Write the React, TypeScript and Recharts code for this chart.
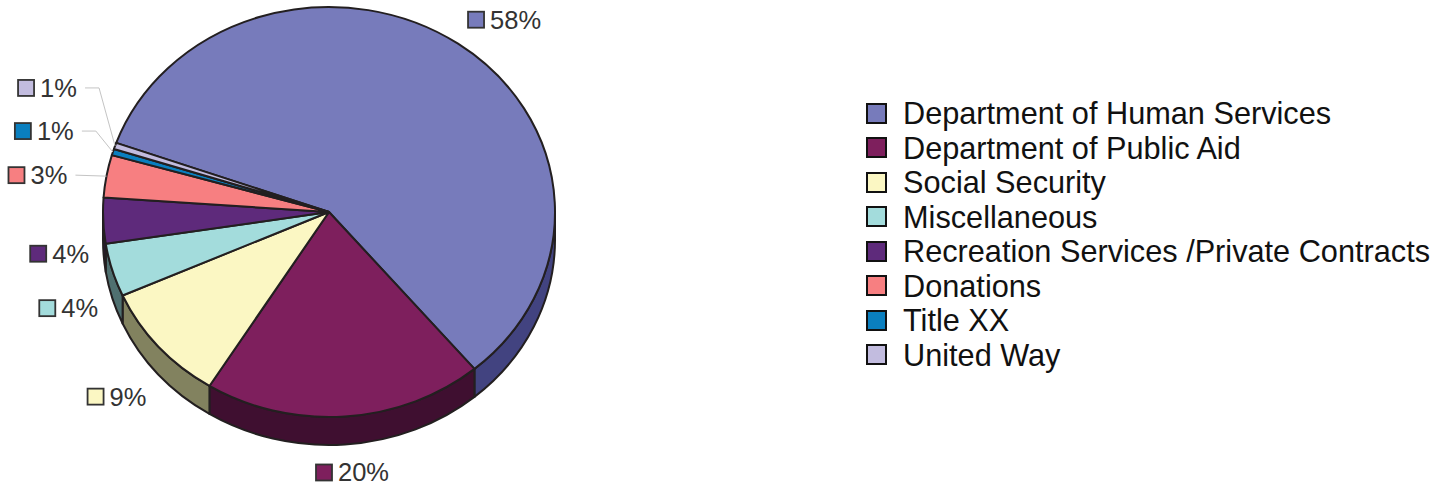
import React from 'react'
import { PieChart, Pie, Legend } from 'recharts'

const CATEGORIES = [
  'Department of Human Services',
  'Department of Public Aid',
  'Social Security',
  'Miscellaneous',
  'Recreation Services /Private Contracts',
  'Donations',
  'Title XX',
  'United Way',
]
const VALUES = [58.4, 20.0, 9.45, 4.2, 3.6, 3.35, 0.5, 0.5]
const TOP_COLORS = ['#777BBB', '#7E1F5D', '#FBF7C3', '#A3DCDC', '#5E2A7B', '#F77F81', '#0A7FBF', '#C2BCDF']
const SIDE_COLORS = ['#424380', '#3F0F30', '#82825F', '#4F7070', '#2F153E', '#7C4041', '#054060', '#615E70']

// offset from the rim of the pie to the label's colour square
const LABEL_NUDGE = [
  [18, -24],
  [-21, 56],
  [-63, 50],
  [-65, 38],
  [-65, 33],
  [-90, -1],
  [-90, -21],
  [-89, -58],
]
// how far the grey leader starts from the label square
const LEADER_START = [0, 0, 0, 0, 0, 59, 59, 59]

const CX = 329
const CY = 212
const RADIUS = 226
const SQUASH = 205 / 226
const DEPTH = 28
const START = 160.3
const OUTLINE = '#231F20'

const topData = CATEGORIES.map((name, i) => ({ name, value: VALUES[i], fill: TOP_COLORS[i] }))
const sideData = CATEGORIES.map((name, i) => ({ name, value: VALUES[i], fill: SIDE_COLORS[i] }))

const rim = (cx: number, cy: number, r: number, deg: number) => {
  const a = (deg * Math.PI) / 180
  return [cx + r * Math.cos(a), cy - r * SQUASH * Math.sin(a)]
}

const TopSlice = (props: any) => {
  const { cx, cy, outerRadius: r, startAngle, endAngle, fill } = props
  const [x1, y1] = rim(cx, cy, r, startAngle)
  const [x2, y2] = rim(cx, cy, r, endAngle)
  const large = Math.abs(startAngle - endAngle) > 180 ? 1 : 0
  const d = `M${cx} ${cy}L${x1} ${y1}A${r} ${r * SQUASH} 0 ${large} 1 ${x2} ${y2}Z`
  return <path d={d} fill={fill} stroke={OUTLINE} strokeWidth={2} strokeLinejoin="round" />
}

const SideSlice = (props: any) => {
  const { cx, cy, outerRadius: r, startAngle, endAngle, fill } = props
  const hi = Math.min(Math.max(startAngle, endAngle), 0)
  const lo = Math.max(Math.min(startAngle, endAngle), -180)
  if (lo >= hi) return null
  const [x1, y1] = rim(cx, cy, r, hi)
  const [x2, y2] = rim(cx, cy, r, lo)
  const ry = r * SQUASH
  const d =
    `M${x1} ${y1}A${r} ${ry} 0 0 1 ${x2} ${y2}L${x2} ${y2 + DEPTH}` +
    `A${r} ${ry} 0 0 0 ${x1} ${y1 + DEPTH}Z`
  return <path d={d} fill={fill} stroke={OUTLINE} strokeWidth={2} strokeLinejoin="round" />
}

const renderLabel = (props: any) => {
  const { cx, cy, outerRadius: r, midAngle, index, value } = props
  const [px, py] = rim(cx, cy, r, midAngle)
  const x = px + LABEL_NUDGE[index][0]
  const y = py + LABEL_NUDGE[index][1]
  const lead = LEADER_START[index]
  return (
    <g key={index}>
      {lead > 0 && (
        <polyline
          points={
            index === 5
              ? `${x + lead} ${y},${px} ${py}`
              : `${x + lead} ${y},${x + lead + 14} ${y},${px} ${py}`
          }
          fill="none"
          stroke="#C4C4C4"
          strokeWidth={1}
        />
      )}
      <rect x={x - 8} y={y - 8} width={16} height={16} fill={TOP_COLORS[index]} stroke="#333" strokeWidth={1.8} />
      <text x={x + 14} y={y + 9} fontSize={25.5} fill="#333" fontFamily="Liberation Sans">
        {`${Math.round(value)}%`}
      </text>
    </g>
  )
}

const renderLegend = () => (
  <div style={{ fontFamily: 'Liberation Sans', fontSize: 30.7, color: '#111' }}>
    {CATEGORIES.map((name, i) => (
      <div key={name} style={{ display: 'flex', alignItems: 'center', height: 34.5, whiteSpace: 'nowrap' }}>
        <span
          style={{
            width: 17,
            height: 17,
            marginRight: 16,
            background: TOP_COLORS[i],
            border: '2.5px solid #111',
            flex: 'none',
          }}
        />
        <span style={{ position: 'relative', top: 1 }}>{name}</span>
      </div>
    ))}
  </div>
)

export default function App() {
  return (
    <div style={{ position: 'absolute', left: 0, top: 0, width: 1451, height: 487, overflow: 'hidden' }}>
      <PieChart width={1451} height={487} margin={{ top: 0, right: 0, bottom: 0, left: 0 }}>
        <Pie
          data={sideData}
          dataKey="value"
          nameKey="name"
          cx={CX}
          cy={CY}
          outerRadius={RADIUS}
          startAngle={START}
          endAngle={START - 360}
          shape={SideSlice}
          legendType="none"
          isAnimationActive={false}
        />
        <Pie
          data={topData}
          dataKey="value"
          nameKey="name"
          cx={CX}
          cy={CY}
          outerRadius={RADIUS}
          startAngle={START}
          endAngle={START - 360}
          shape={TopSlice}
          label={renderLabel}
          labelLine={false}
          isAnimationActive={false}
        />
        <Legend
          content={renderLegend}
          wrapperStyle={{ left: 866, top: 96, width: 585 }}
        />
      </PieChart>
    </div>
  )
}
